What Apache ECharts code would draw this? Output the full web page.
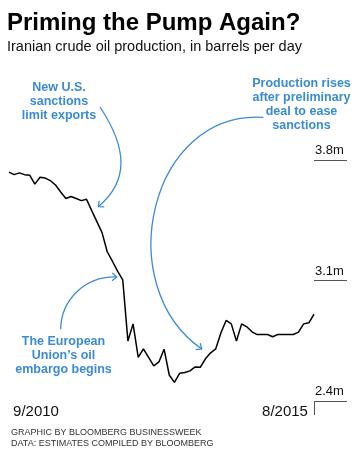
<!DOCTYPE html>
<html><head><meta charset="utf-8">
<script src="https://cdn.jsdelivr.net/npm/echarts@6/dist/echarts.min.js"></script>
<style>html,body{margin:0;padding:0;background:#fff}#c{width:360px;height:461px}</style>
</head><body><div id="c"></div>
<script>
const months = [
 '2010-09','2010-10','2010-11','2010-12',
 '2011-01','2011-02','2011-03','2011-04','2011-05','2011-06','2011-07','2011-08','2011-09','2011-10','2011-11','2011-12',
 '2012-01','2012-02','2012-03','2012-04','2012-05','2012-06','2012-07','2012-08','2012-09','2012-10','2012-11','2012-12',
 '2013-01','2013-02','2013-03','2013-04','2013-05','2013-06','2013-07','2013-08','2013-09','2013-10','2013-11','2013-12',
 '2014-01','2014-02','2014-03','2014-04','2014-05','2014-06','2014-07','2014-08','2014-09','2014-10','2014-11','2014-12',
 '2015-01','2015-02','2015-03','2015-04','2015-05','2015-06','2015-07','2015-08'];
const production = [
 3.73,3.715,3.725,3.715,3.712,3.66,3.70,3.695,3.68,3.655,3.614,3.576,3.588,3.576,3.564,3.572,
 3.506,3.442,3.378,3.267,3.212,3.154,3.104,2.749,2.848,2.654,2.703,2.653,2.604,2.627,2.701,2.551,
 2.508,2.561,2.566,2.575,2.598,2.596,2.645,2.68,2.703,2.796,2.868,2.848,2.749,2.848,2.831,2.802,
 2.786,2.786,2.786,2.773,2.786,2.786,2.786,2.786,2.80,2.848,2.854,2.904];
const yTicks = [2.4, 3.1, 3.8];
const yTickLabels = ['2.4m', '3.1m', '3.8m'];
const xTickLabels = ['9/2010', '8/2015'];
const titleText = 'Priming the Pump Again?';
const subtitleText = 'Iranian crude oil production, in barrels per day';
const note1 = 'New U.S.\nsanctions\nlimit exports';
const note2 = 'The European\nUnion\u2019s oil\nembargo begins';
const note3 = 'Production rises\nafter preliminary\ndeal to ease\nsanctions';
const footerText = 'GRAPHIC BY BLOOMBERG BUSINESSWEEK\nDATA: ESTIMATES COMPILED BY BLOOMBERG';

const BLUE = '#3b8bd4';
const FONT = '"Liberation Sans", Arial, sans-serif';

function arrow(p0, p1, p2, p3) {
  const a = Math.atan2(p3[1] - p2[1], p3[0] - p2[0]);
  const L = 6, h = 0.72;
  const arm1 = [p3[0] - L * Math.cos(a - h), p3[1] - L * Math.sin(a - h)];
  const arm2 = [p3[0] - L * Math.cos(a + h), p3[1] - L * Math.sin(a + h)];
  return [
    {type: 'bezierCurve', shape: {x1: p0[0], y1: p0[1], cpx1: p1[0], cpy1: p1[1], cpx2: p2[0], cpy2: p2[1], x2: p3[0], y2: p3[1]},
     style: {stroke: BLUE, lineWidth: 1.3, fill: null}, silent: true},
    {type: 'polyline', shape: {points: [arm1, p3, arm2]}, style: {stroke: BLUE, lineWidth: 1.3, fill: null}, silent: true}
  ];
}
function note(text, x, y, lh) {
  return {type: 'text', x: x, y: y, silent: true,
    style: {text: text, fill: BLUE, fontFamily: FONT, fontWeight: 'bold', fontSize: 12.5, lineHeight: lh, align: 'center', verticalAlign: 'top'}};
}

const chart = echarts.init(document.getElementById('c'), null, {renderer: 'canvas'});
chart.setOption({
  animation: false,
  backgroundColor: '#fff',
  grid: {left: 9, right: 46, top: 160, bottom: 60, containLabel: false},
  xAxis: {
    type: 'category', data: months, boundaryGap: false,
    axisLine: {show: false},
    splitLine: {show: false},
    axisTick: {show: true, inside: false, length: 14, interval: (i) => i === months.length - 1, lineStyle: {color: '#555', width: 1}},
    axisLabel: {
      interval: (i) => i === 0 || i === months.length - 1,
      margin: 3,
      formatter: (v, i) => i === 0 ? '{l|' + xTickLabels[0] + '}' : '{r|' + xTickLabels[1] + '}',
      rich: {
        l: {fontFamily: FONT, fontSize: 15, color: '#111', padding: [0, 0, 0, 54]},
        r: {fontFamily: FONT, fontSize: 15, color: '#111', padding: [0, 58, 0, 0]}
      }
    }
  },
  yAxis: {
    type: 'value', position: 'right', min: 2.4, max: 3.8,
    axisLine: {show: false},
    splitLine: {show: false},
    axisTick: {show: true, inside: false, length: 33, customValues: yTicks, lineStyle: {color: '#555', width: 1}},
    axisLabel: {
      customValues: yTicks, margin: 1, align: 'left', verticalAlign: 'bottom',
      fontFamily: FONT, fontSize: 13, color: '#111', padding: [0, 0, 3, 0],
      formatter: (v) => yTickLabels[yTicks.findIndex(t => Math.abs(t - v) < 1e-6)]
    }
  },
  series: [{
    type: 'line', data: production, showSymbol: false, symbol: 'none',
    lineStyle: {color: '#000', width: 1.5}, silent: true
  }],
  graphic: [
    {type: 'text', x: 7, y: 11, silent: true,
     style: {text: titleText, fill: '#000', fontFamily: FONT, fontWeight: 'bold', fontSize: 24, lineHeight: 24, align: 'left', verticalAlign: 'top'}},
    {type: 'text', x: 7, y: 39.5, silent: true,
     style: {text: subtitleText, fill: '#111', fontFamily: FONT, fontSize: 14.5, lineHeight: 15, align: 'left', verticalAlign: 'top'}},
    note(note1, 59, 80, 14.4),
    note(note3, 301.5, 77, 14),
    note(note2, 63.5, 334.8, 13.8),
    ...arrow([100, 107], [127.5, 148.5], [129, 181], [98.3, 206.7]),
    ...arrow([60.7, 329.3], [61, 300], [85, 276], [116.7, 277]),
    ...arrow([263.3, 117.3], [150, 110], [110, 285], [201.7, 349]),
    {type: 'text', x: 11, y: 427.4, silent: true,
     style: {text: footerText, fill: '#333', fontFamily: FONT, fontSize: 9, lineHeight: 10.6, align: 'left', verticalAlign: 'top'}}
  ]
});
</script></body></html>
